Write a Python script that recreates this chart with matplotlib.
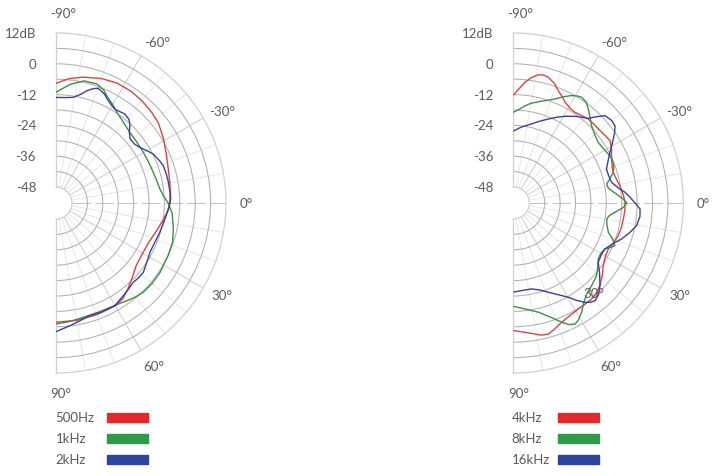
"""
Polar response plots (two half-polar panels) for 6 frequency bands.
Angles in degrees (0 = on-axis), levels in dB.
"""

import numpy as np
import matplotlib
matplotlib.use("Agg")
import matplotlib.pyplot as plt
from matplotlib.patches import Rectangle

# ─── data ─────────────────────────────────────────────────────────────────────

# left panel
ang_500 = [-90, -84, -78, -70, -63, -56, -50, -44, -38, -31, -24, -17, -10, -2,
           4, 9, 15, 23, 31, 38, 44, 50, 55, 60, 70, 80, 90]
db_500 = [-7.6, -5.5, -4.1, -2.6, -1.8, -1.8, -2.2, -2.8, -3.6, -5.4, -7.2, -8.5,
          -9.2, -9.5, -10.5, -12.0, -13.5, -15.0, -15.2, -14.6, -12.8, -10.6,
          -8.8, -8.0, -7.9, -7.8, -7.8]

ang_1k = [-90, -86, -83, -77, -71, -67, -64.7, -60, -56, -50, -44, -37, -30, -24,
          -17.5, -12, -7.7, -3, 0, 5, 12.5, 18.5, 25, 33.7, 40, 45.6, 50, 54, 60,
          68, 77, 84, 90]
db_1k = [-11.1, -9.2, -7.6, -5.4, -5.2, -6.5, -8.0, -10.0, -11.7, -13.3, -14.4,
         -14.8, -14.9, -14.8, -14.5, -14.0, -13.4, -12.0, -10.5, -8.8, -7.4, -6.3,
         -6.0, -5.5, -5.4, -5.6, -6.3, -7.2, -8.2, -8.6, -8.4, -7.7, -7.1]

ang_2k = [-90, -85, -80.7, -77, -74.7, -72, -69.8, -66, -62.9, -58, -55, -52.3,
          -49, -47, -44, -41, -37, -33.6, -30, -26.7, -22, -19.2, -15, -10.4, -5,
          0, 3, 9, 15.7, 22, 27.7, 33, 38.4, 42, 45.7, 50, 54, 60.3, 67, 73.4, 79,
          83.6, 90]
db_2k = [-13.1, -13.0, -12.5, -10.7, -8.9, -7.4, -6.6, -7.8, -9.5, -11.1, -10.8,
         -10.4, -11.0, -12.0, -14.5, -16.0, -16.0, -15.1, -13.4, -11.8, -10.6,
         -10.0, -9.8, -9.7, -9.6, -9.8, -10.4, -11.4, -12.2, -12.8, -12.9, -12.0,
         -10.8, -10.8, -11.1, -10.4, -9.6, -8.1, -8.2, -8.4, -7.3, -6.1, -4.1]

# right panel
ang_4k = [-90, -87, -84.5, -82, -79, -76.5, -74.4, -71, -68.2, -65, -62.8, -59,
          -55.8, -52, -48.2, -44, -41, -36, -32.8, -29, -24.1, -20, -17, -13, -9.2,
          -4, 0, 4, 8.3, 13, 17.3, 22, 25.8, 30, 34.9, 39, 43.6, 47, 50.8, 54, 58.5,
          63, 67.9, 72, 75, 78, 80.6, 85, 90]
db_4k = [-12.2, -9.5, -7.0, -5.0, -3.3, -3.0, -3.4, -5.0, -7.1, -8.8, -10.1,
         -11.2, -11.5, -11.0, -10.4, -10.3, -10.3, -9.8, -9.4, -10.5, -12.3, -13.2,
         -13.5, -13.0, -12.2, -11.2, -10.7, -10.7, -10.9, -11.1, -11.4, -12.3,
         -13.1, -12.8, -11.5, -9.6, -7.6, -6.6, -6.0, -5.9, -5.8, -5.2, -4.1, -2.5,
         -1.4, -1.6, -2.5, -3.7, -4.5]

ang_8k = [-90, -86, -83.1, -80, -76.1, -72, -68.2, -65, -61.5, -59, -57.1, -54,
          -51.4, -48, -44.6, -40, -35.5, -31, -27.3, -24.5, -22.1, -19.5, -17, -14,
          -11.5, -9, -7.1, -4.5, -2.1, 0, 2.5, 5.2, 7.5, 9.7, 13, 17.1, 20, 22.8,
          24.5, 26.6, 30, 33.4, 37, 41.1, 46, 51.1, 55, 58, 61, 63, 65.5, 67.9, 72,
          77.1, 83, 90]
db_8k = [-18.9, -17.5, -16.1, -14.8, -13.6, -12.2, -10.6, -8.6, -6.6, -5.6, -5.2,
         -5.8, -7.4, -9.5, -11.4, -12.8, -13.6, -13.2, -12.6, -12.2, -12.2, -12.7,
         -13.5, -15.5, -17.1, -16.8, -15.6, -13.5, -11.4, -10.0, -11.5, -14.5,
         -16.5, -17.3, -16.8, -15.5, -13.0, -11.3, -12.5, -14.3, -14.9, -14.6,
         -13.0, -11.2, -10.0, -8.7, -6.5, -4.0, -2.0, -1.3, -2.2, -4.1, -7.5,
         -10.6, -12.5, -14.0]

ang_16k = [-90, -84, -77, -72, -67.4, -63, -59.2, -54, -48.5, -46, -43.6, -40,
           -37.2, -35, -32.6, -30, -27.7, -24, -20, -16, -11.9, -8, -5.5, -2.5, 0,
           2.7, 6, 10.4, 14, 18.4, 22, 26.6, 30, 34.9, 39, 43.6, 47, 50.1, 52, 54.2,
           57, 59.7, 64, 68.6, 73, 78, 84, 90]
db_16k = [-26.2, -24.5, -22.6, -20.7, -18.8, -16.7, -14.9, -12.5, -10.2, -7.5,
          -4.9, -4.2, -4.5, -6.0, -8.0, -10.0, -11.7, -13.8, -15.6, -15.6, -15.1,
          -12.8, -10.5, -8.5, -6.8, -4.8, -4.6, -5.4, -7.3, -9.8, -12.2, -14.3,
          -14.5, -13.9, -11.0, -7.6, -5.5, -4.6, -5.2, -6.5, -9.0, -11.7, -14.5,
          -16.9, -18.8, -20.0, -20.0, -19.5]

r_ticks = [12, 0, -12, -24, -36, -48]
r_labels = ["12dB", "0", "-12", "-24", "-36", "-48"]
ang_ticks = [-90, -60, -30, 0, 30, 60, 90]

panels = [
    [("500Hz", ang_500, db_500), ("1kHz", ang_1k, db_1k), ("2kHz", ang_2k, db_2k)],
    [("4kHz", ang_4k, db_4k), ("8kHz", ang_8k, db_8k), ("16kHz", ang_16k, db_16k)],
]

LINE_COLORS = ["#d9443f", "#3d8f45", "#3a3fa3"]
KEY_COLORS = ["#e2292e", "#2f9a4a", "#2e45a0"]
TXT = "#5a5a5a"
FONT = "Lato"
FS = 9.5

# ─── figure ───────────────────────────────────────────────────────────────────

W, H = 720, 477
fig = plt.figure(figsize=(W / 100, H / 100), dpi=100)

R_PX = 170          # outer radius in pixels
HOLE_PX = 16        # radius of the inner hole
CY = 204            # vertical centre of both panels (pixels from top)
RMIN, RMAX = -48, 12
# r origin so that the -48 dB ring sits at the hole edge
rorigin = RMIN - (RMAX - RMIN) * (HOLE_PX / R_PX) / (1 - HOLE_PX / R_PX)
r_label = rorigin + 190 / R_PX * (RMAX - rorigin)   # radius for angle labels


def setup_axes(ax):
    ax.set_theta_zero_location("E")
    ax.set_theta_direction(-1)
    ax.set_thetamin(-90)
    ax.set_thetamax(90)
    ax.set_ylim(RMIN, RMAX)
    ax.set_rorigin(rorigin)

    ax.set_xticks(np.deg2rad(np.arange(-80, 90, 10)))
    ax.set_yticks(np.arange(-42, 12, 6))
    ax.set_xticklabels([])
    ax.set_yticklabels([])
    ax.tick_params(length=0)
    ax.grid(True, lw=0.75)

    for deg, gl in zip(np.arange(-80, 90, 10), ax.xaxis.get_gridlines()):
        if deg == 0:
            gl.set_color("#c4c4c4")
            gl.set_linestyle((0, (18, 4)))
        elif deg % 30 == 0:
            gl.set_color("#d0d0d0")
        else:
            gl.set_color("#e9e9e9")
    for v, gl in zip(np.arange(-42, 12, 6), ax.yaxis.get_gridlines()):
        gl.set_color("#dadada" if v % 12 == 0 else "#e8e8e8")

    for sp in ax.spines.values():
        sp.set_color("#d0d0d0")
        sp.set_linewidth(0.9)

    off = matplotlib.transforms.offset_copy(ax.transData, fig=fig, x=-20, y=0,
                                            units="dots")
    for v, s in zip(r_ticks, r_labels):
        ax.text(-np.pi / 2, v, s, transform=off, ha="right", va="center",
                fontsize=FS, color=TXT, family=FONT, clip_on=False)

    nudge = {-90: 2, -60: 2, -30: 1, 0: 0, 30: -1, 60: -1, 90: -1.5}
    for a in ang_ticks:
        ax.text(np.deg2rad(a + nudge[a]), r_label, f"{a}°", ha="center",
                va="center", fontsize=FS, color=TXT, family=FONT, clip_on=False)


centres_x = [56, 513.3]
key_x = [(55.5, 107), (511.5, 558)]
key_y = [418, 439, 460]

for centre, (tx, bx), series in zip(centres_x, key_x, panels):
    # polar axes keep a square box; the right half-wedge is centred in it
    left = centre - R_PX / 2
    ax = fig.add_axes([left / W, (H - CY - R_PX) / H, 2 * R_PX / W, 2 * R_PX / H],
                      projection="polar")
    setup_axes(ax)
    for (name, ang, db), lc, kc, ky in zip(series, LINE_COLORS, KEY_COLORS, key_y):
        ax.plot(np.deg2rad(ang), db, color=lc, lw=1.0, zorder=3)
        fig.text(tx / W, 1 - ky / H, name, ha="left", va="center",
                 fontsize=FS, color=TXT, family=FONT)
        fig.patches.append(Rectangle((bx / W, 1 - (ky + 5) / H), 41 / W, 9.5 / H,
                                     transform=fig.transFigure, color=kc,
                                     figure=fig))

# stray angle label sitting inside the right panel in the original
fig.text(594 / W, 1 - 294 / H, "30°", ha="center", va="center", fontsize=FS,
         color=TXT, family=FONT, zorder=1)

fig.savefig("out.png", dpi=100)
